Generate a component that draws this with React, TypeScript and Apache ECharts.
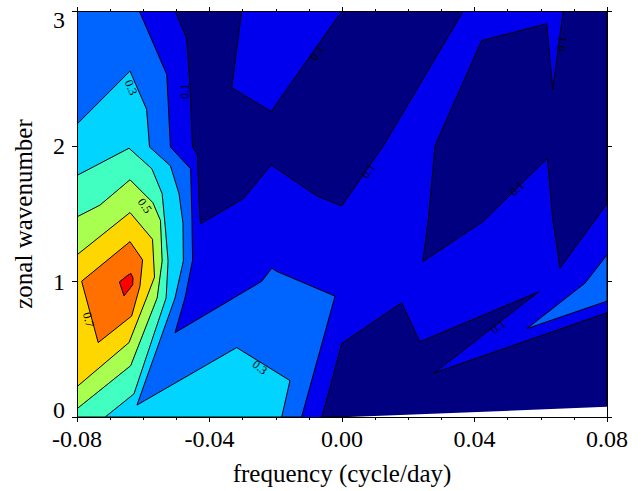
import React, { useEffect, useRef } from "react";
import * as echarts from "echarts";

// axis ticks
const xTickValues = [-0.08, -0.04, 0.0, 0.04, 0.08];
const yTickValues = [0, 1, 2, 3];

// contour level fill colours (jet-like)
const levelColors: Record<string, string> = {
  lt01: "#000080",
  l01: "#0000ee",
  l02: "#0064ff",
  l03: "#00d4ff",
  l04: "#40ffc0",
  l05: "#a8ff50",
  l06: "#ffd700",
  l07: "#ff7000",
  l08: "#ff0000",
  nodata: "#ffffff",
};

// contour regions in data units [frequency, wavenumber]
const domain01 = [[-0.08, 0], [0.08, 0], [0.08, 3], [-0.08, 3]];

const below01Top = [
  [-0.0504, 3], [-0.0469, 2.8], [-0.0459, 2.445], [-0.0451, 1.993], [-0.0437, 1.944],
  [-0.0429, 1.467], [-0.0426, 1.43], [-0.0298, 1.614], [-0.0214, 1.863], [-0.0076, 1.634],
  [-0.0001, 1.56], [0.0125, 2.005], [0.0366, 3], [0.0, 3], [-0.0214, 2.257],
  [-0.0333, 2.433], [-0.0303, 3],
];

const below01Right = [
  [0.0668, 3], [0.0636, 2.421], [0.0618, 2.905], [0.0422, 2.782], [0.0281, 2.005],
  [0.0261, 1.467], [0.0244, 1.149], [0.0427, 1.447], [0.062, 1.912], [0.0636, 1.467],
  [0.0658, 1.1], [0.08, 1.577], [0.08, 3],
];

const below01Bottom = [
  [-0.0061, 0], [-0.0036, 0.22], [-0.0001, 0.543], [0.018, 0.844], [0.0235, 0.555],
  [0.0593, 0.924], [0.0278, 0.325], [0.08, 0.77], [0.08, 0],
];

const noData = [[0.002, 0], [0.08, 0], [0.08, 0.075]];

const above02Right = [[0.08, 1.198], [0.0734, 0.99], [0.0558, 0.653], [0.08, 0.856]];

const above02 = [
  [-0.08, 3], [-0.0612, 3], [-0.0529, 2.531], [-0.0518, 1.995], [-0.0457, 1.834],
  [-0.0453, 1.467], [-0.0451, 1.159], [-0.0474, 0.88], [-0.0504, 0.623], [-0.0242, 1.003],
  [-0.0212, 1.1], [-0.0197, 1.076], [-0.0021, 0.893], [-0.0122, 0], [-0.08, 0],
];

const above03 = [
  [-0.08, 2.164], [-0.064, 2.556], [-0.059, 2.274], [-0.0581, 1.995], [-0.0518, 1.856],
  [-0.0492, 1.65], [-0.048, 1.43], [-0.0479, 1.152], [-0.0504, 0.88], [-0.0619, 0.088],
  [-0.0318, 0.513], [-0.0157, 0.269], [-0.0182, 0], [-0.08, 0],
];

const above04 = [
  [-0.08, 1.785], [-0.0643, 1.986], [-0.0574, 1.834], [-0.0543, 1.65], [-0.0534, 1.416],
  [-0.0525, 1.152], [-0.0531, 0.88], [-0.0628, 0.171], [-0.0715, 0], [-0.08, 0],
];

const above05 = [
  [-0.08, 1.479], [-0.0731, 1.565], [-0.064, 1.753], [-0.0571, 1.584], [-0.0548, 1.452],
  [-0.0543, 1.152], [-0.0558, 0.88], [-0.0638, 0.379], [-0.08, 0.061],
];

const above06 = [
  [-0.08, 1.198], [-0.064, 1.511], [-0.0572, 1.313], [-0.0566, 1.034], [-0.059, 0.88],
  [-0.0643, 0.55], [-0.08, 0.224],
];

const above07 = [
  [-0.0786, 1.003], [-0.064, 1.296], [-0.0602, 1.161], [-0.061, 0.966], [-0.0635, 0.746],
  [-0.0736, 0.55],
];

const above08 = [
  [-0.0672, 0.998], [-0.0646, 1.049], [-0.0637, 1.06], [-0.0631, 1.027], [-0.0632, 0.976],
  [-0.0658, 0.895],
];

// contour labels: position, text, angle in degrees
const labelX = [-0.0637, -0.0474, -0.0076, -0.0595, -0.0765, -0.0248, 0.0079, 0.0528, 0.0663, 0.0471];
const labelY = [2.435, 2.406, 2.69, 1.562, 0.719, 0.367, 1.819, 1.687, 2.758, 0.667];
const labelText = ["0.3", "0.1", "0.1", "0.5", "0.7", "0.3", "0.1", "0.1", "0.1", "0.1"];
const labelAngle = [-67, 90, 55, -55, -75, -38, 55, 45, 82, 38];

const regions = [
  { pts: domain01, color: levelColors.l01, stroke: false },
  { pts: below01Top, color: levelColors.lt01, stroke: true },
  { pts: below01Right, color: levelColors.lt01, stroke: true },
  { pts: below01Bottom, color: levelColors.lt01, stroke: true },
  { pts: noData, color: levelColors.nodata, stroke: false },
  { pts: above02Right, color: levelColors.l02, stroke: true },
  { pts: above02, color: levelColors.l02, stroke: true },
  { pts: above03, color: levelColors.l03, stroke: true },
  { pts: above04, color: levelColors.l04, stroke: true },
  { pts: above05, color: levelColors.l05, stroke: true },
  { pts: above06, color: levelColors.l06, stroke: true },
  { pts: above07, color: levelColors.l07, stroke: true },
  { pts: above08, color: levelColors.l08, stroke: true },
];

const FONT = '"Liberation Serif", "Times New Roman", serif';

export default function App() {
  const ref = useRef<HTMLDivElement>(null);
  useEffect(() => {
    document.body.style.margin = "0";
    const chart = echarts.init(ref.current!, undefined, { renderer: "svg" });
    const axisCommon = {
      type: "value" as const,
      z: 10,
      axisLine: { show: true, onZero: false, lineStyle: { color: "#000", width: 1 } },
      splitLine: { show: false },
    };
    const yMin = yTickValues[0];
    const yMax = yTickValues[yTickValues.length - 1];
    chart.setOption({
      animation: false,
      backgroundColor: "#ffffff",
      grid: { left: 77, right: 36, top: 11, bottom: 71, containLabel: false },
      xAxis: [
        {
          ...axisCommon,
          position: "bottom",
          min: xTickValues[0],
          max: xTickValues[xTickValues.length - 1],
          interval: 0.04,
          axisTick: { show: true, inside: false, length: 5, lineStyle: { color: "#000" } },
          minorTick: { show: true, splitNumber: 4, length: 3, lineStyle: { color: "#000" } },
          axisLabel: {
            color: "#000",
            fontSize: 24,
            fontFamily: FONT,
            margin: 10,
            formatter: (v: number) => (Math.abs(v) < 1e-9 ? "0.00" : v.toFixed(2)),
          },
          name: "frequency (cycle/day)",
          nameLocation: "middle",
          nameGap: 44,
          nameTextStyle: { color: "#000", fontSize: 25, fontFamily: FONT },
        },
        {
          ...axisCommon,
          position: "top",
          min: xTickValues[0],
          max: xTickValues[xTickValues.length - 1],
          interval: 0.04,
          axisTick: { show: true, inside: false, length: 4, lineStyle: { color: "#000" } },
          minorTick: { show: true, splitNumber: 4, length: 2, lineStyle: { color: "#000" } },
          axisLabel: { show: false },
        },
      ],
      yAxis: [
        {
          ...axisCommon,
          position: "left",
          min: yMin,
          max: yMax,
          interval: 1,
          axisTick: { show: true, inside: false, length: 5, lineStyle: { color: "#000" } },
          axisLabel: {
            color: "#000",
            fontSize: 24,
            fontFamily: FONT,
            margin: 12,
            formatter: (v: number) =>
              v === yMin ? `{lo|${v}}` : v === yMax ? `{hi|${v}}` : `{m|${v}}`,
            rich: {
              lo: { fontSize: 24, fontFamily: FONT, color: "#000", padding: [0, 0, 14, 0] },
              hi: { fontSize: 24, fontFamily: FONT, color: "#000", padding: [18, 0, 0, 0] },
              m: { fontSize: 24, fontFamily: FONT, color: "#000" },
            },
          },
          name: "zonal wavenumber",
          nameLocation: "middle",
          nameGap: 41,
          nameRotate: 90,
          nameTextStyle: { color: "#000", fontSize: 25, fontFamily: FONT },
        },
        {
          ...axisCommon,
          position: "right",
          min: yMin,
          max: yMax,
          interval: 1,
          axisTick: { show: true, inside: false, length: 5, lineStyle: { color: "#000" } },
          axisLabel: { show: false },
        },
      ],
      series: [
        {
          type: "custom",
          clip: true,
          z: 2,
          data: regions.map((r) => ({ value: r.pts[0] })),
          renderItem: (params: any, api: any) => {
            const r = regions[params.dataIndex];
            const points = r.pts.map((p) => api.coord(p));
            return {
              type: "polygon",
              shape: { points },
              style: {
                fill: r.color,
                stroke: r.stroke ? "#000" : "none",
                lineWidth: 1,
                lineJoin: "miter",
              },
              silent: true,
            };
          },
        },
        {
          type: "custom",
          clip: true,
          z: 3,
          data: labelX.map((x, i) => ({ value: [x, labelY[i]] })),
          renderItem: (params: any, api: any) => {
            const i = params.dataIndex;
            const c = api.coord([labelX[i], labelY[i]]);
            return {
              type: "text",
              x: c[0],
              y: c[1],
              rotation: (labelAngle[i] * Math.PI) / 180,
              style: {
                text: labelText[i],
                fill: "#000",
                font: `12px ${FONT}`,
                align: "center",
                verticalAlign: "middle",
              },
              silent: true,
            };
          },
        },
      ],
    });
    return () => chart.dispose();
  }, []);
  return (
    <div
      ref={ref}
      style={{ position: "fixed", left: 0, top: 0, width: 643, height: 491 }}
    />
  );
}
